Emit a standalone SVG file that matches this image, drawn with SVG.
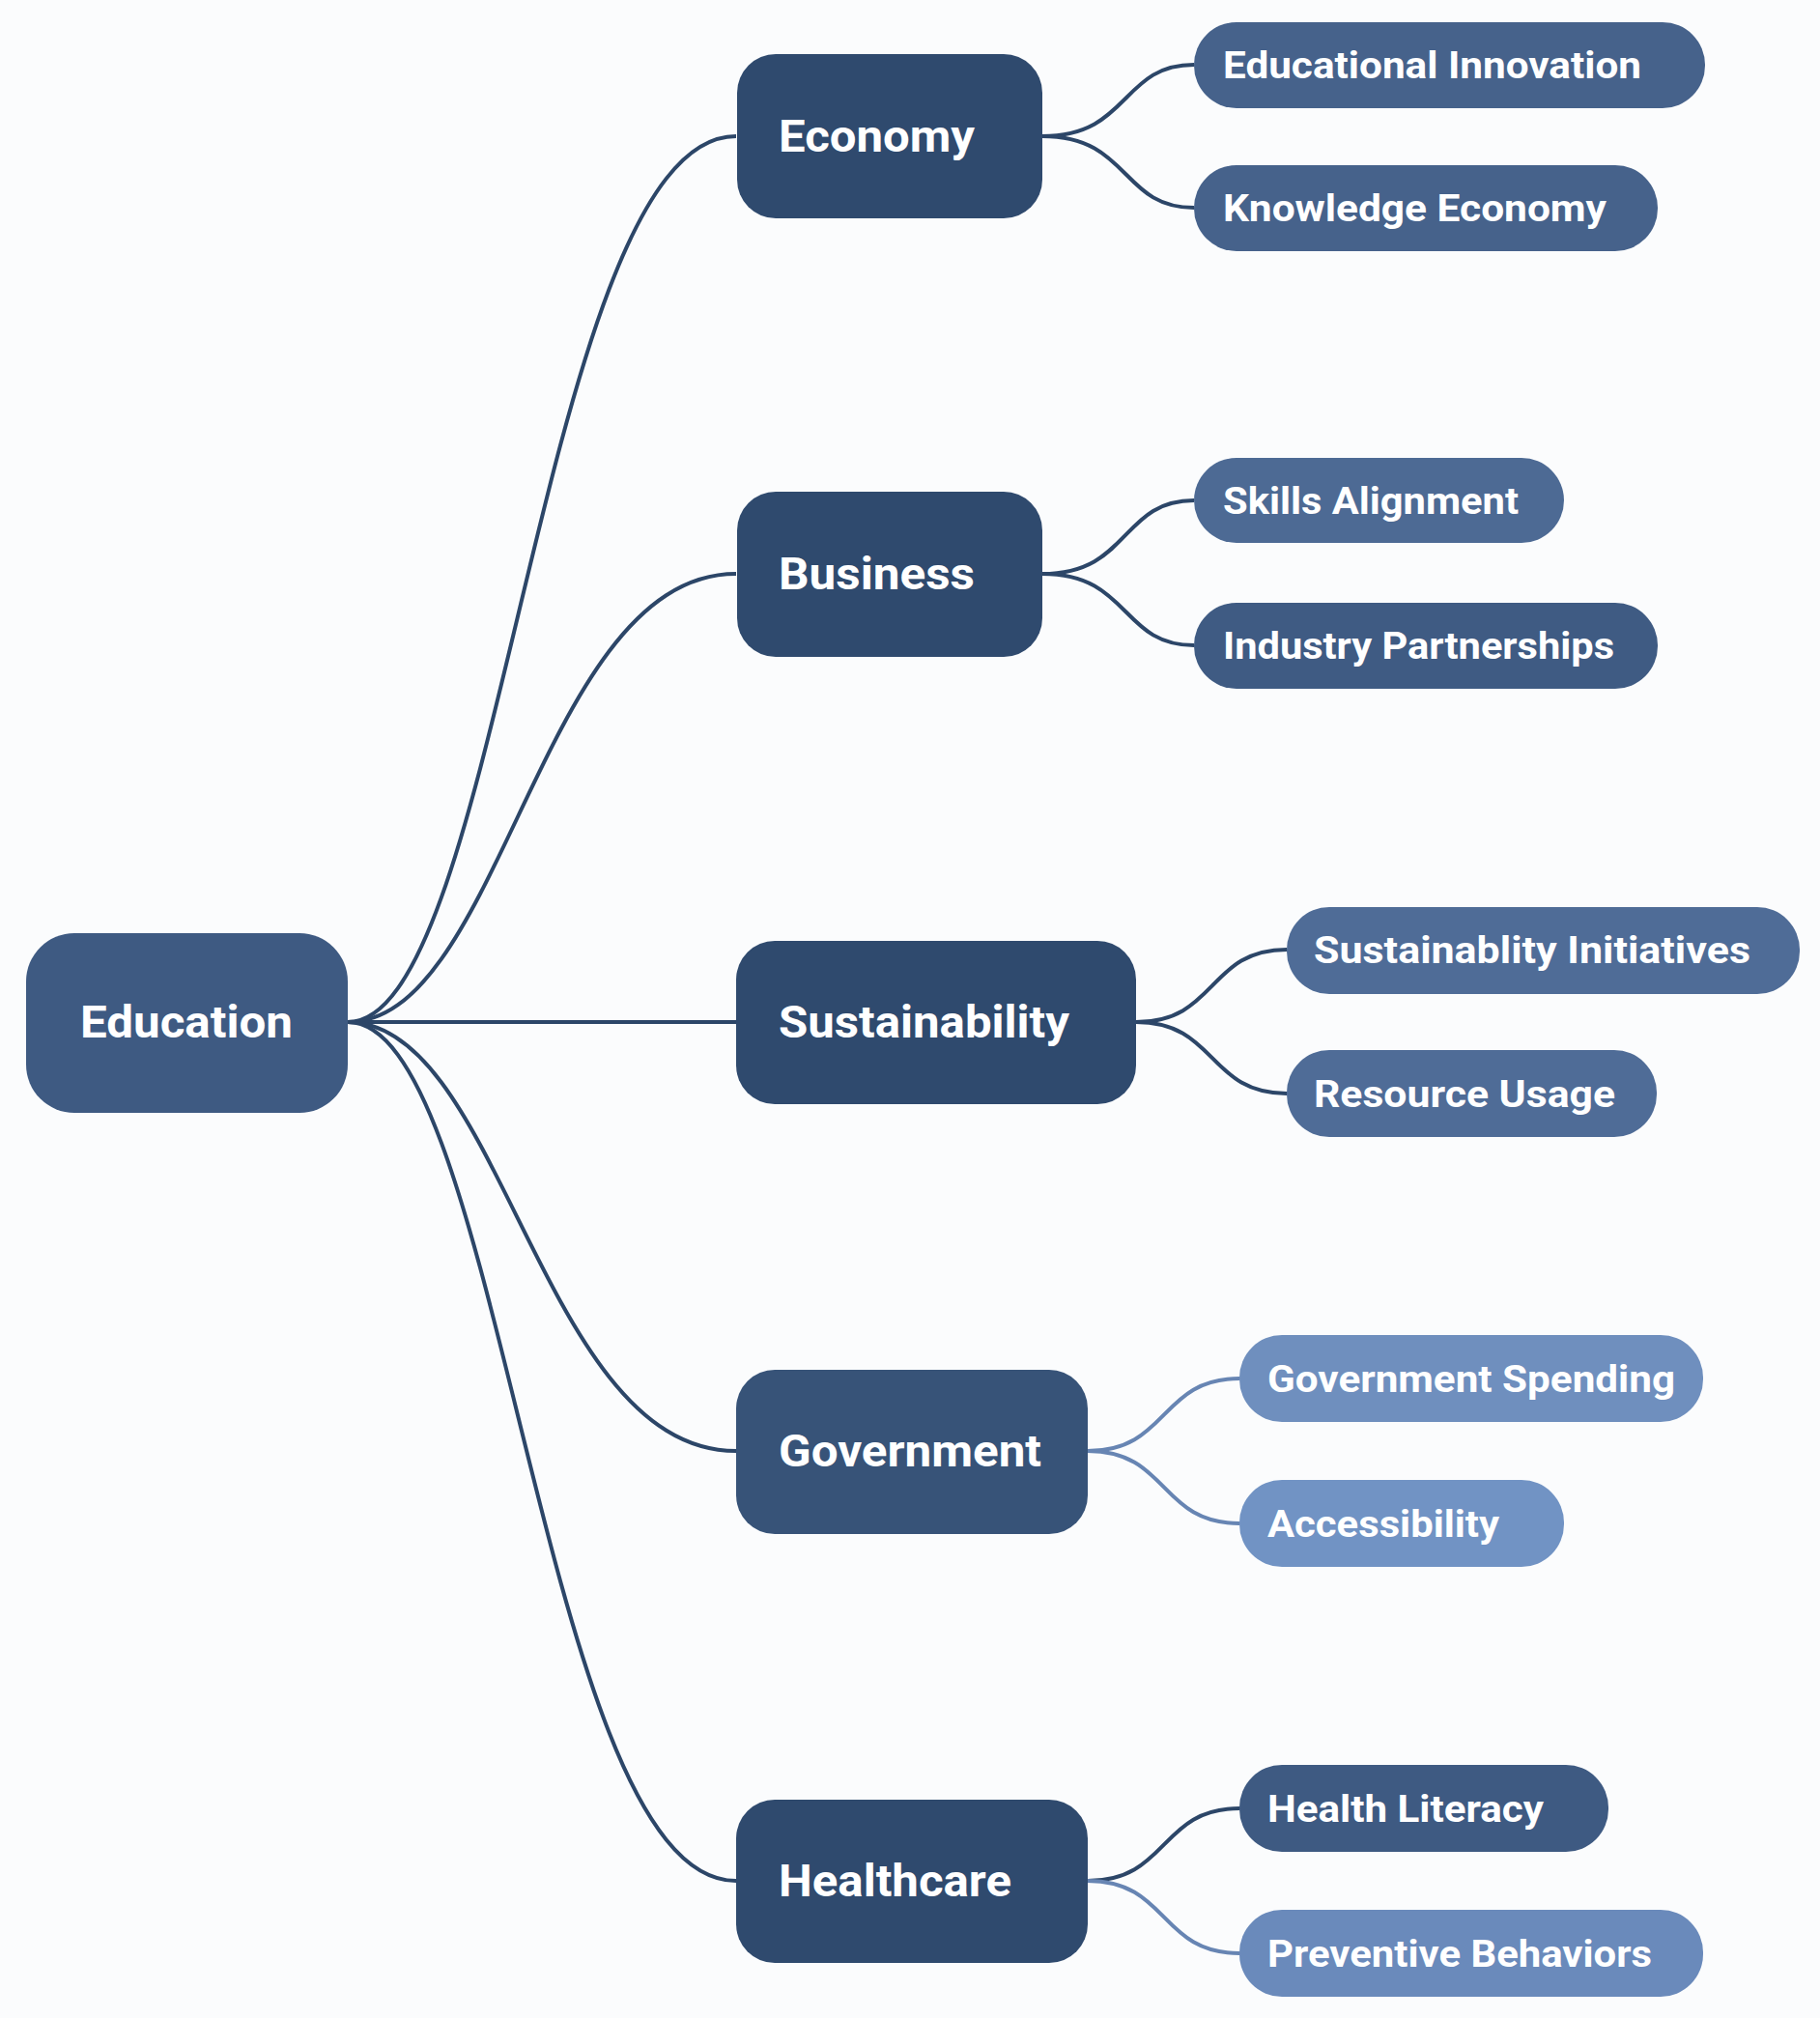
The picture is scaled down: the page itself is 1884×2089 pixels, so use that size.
<svg xmlns="http://www.w3.org/2000/svg" width="1884" height="2089" viewBox="0 0 1884 2089">
<style>
.m{fill:#2f4a6e}
.t{font-family:Roboto,"Liberation Sans",sans-serif;font-weight:bold;fill:#fff}
.mt{font-size:46px}
.lt{font-size:39px}
.c{fill:none;stroke:#2c4668;stroke-width:4}
.cl{fill:none;stroke:#6785b3;stroke-width:4}
</style>
<rect width="1884" height="2089" fill="#fbfcfd"/>
<g id="connectors">
<path class="c" d="M360 1058 C 520 1058 560 141 762 141"/>
<path class="c" d="M360 1058 C 520 1058 560 594 762 594"/>
<path class="c" d="M360 1058 L 762 1058"/>
<path class="c" d="M360 1058 C 520 1058 560 1502 762 1502"/>
<path class="c" d="M360 1058 C 520 1058 560 1947 762 1947"/>
<path class="c" d="M1079 141 C 1170 141 1160 67 1236 67"/>
<path class="c" d="M1079 141 C 1170 141 1160 215 1236 215"/>
<path class="c" d="M1079 594 C 1170 594 1160 518 1236 518"/>
<path class="c" d="M1079 594 C 1170 594 1160 668 1236 668"/>
<path class="c" d="M1176 1058 C 1260 1058 1250 983 1332 983"/>
<path class="c" d="M1176 1058 C 1260 1058 1250 1132 1332 1132"/>
<path class="cl" d="M1126 1502 C 1210 1502 1200 1427 1283 1427"/>
<path class="cl" d="M1126 1502 C 1210 1502 1200 1577 1283 1577"/>
<path class="c" d="M1126 1947 C 1210 1947 1200 1872 1283 1872"/>
<path class="cl" d="M1126 1947 C 1210 1947 1200 2022 1283 2022"/>
</g>
<g id="education"><rect x="27" y="966" width="333" height="186" rx="50" fill="#3e5a82"/><text class="t mt" x="83" y="1074" textLength="220" lengthAdjust="spacingAndGlyphs">Education</text></g>
<g id="economy"><rect class="m" x="763" y="56" width="316" height="170" rx="40"/><text class="t mt" x="806" y="157" textLength="203" lengthAdjust="spacingAndGlyphs">Economy</text></g>
<g id="business"><rect class="m" x="763" y="509" width="316" height="171" rx="40"/><text class="t mt" x="806" y="610" textLength="203" lengthAdjust="spacingAndGlyphs">Business</text></g>
<g id="sustainability"><rect class="m" x="762" y="974" width="414" height="169" rx="40"/><text class="t mt" x="806" y="1074" textLength="301" lengthAdjust="spacingAndGlyphs">Sustainability</text></g>
<g id="government"><rect x="762" y="1418" width="364" height="170" rx="40" fill="#375378"/><text class="t mt" x="806" y="1518" textLength="272" lengthAdjust="spacingAndGlyphs">Government</text></g>
<g id="healthcare"><rect class="m" x="762" y="1863" width="364" height="169" rx="40"/><text class="t mt" x="806" y="1963" textLength="241" lengthAdjust="spacingAndGlyphs">Healthcare</text></g>
<g id="educational-innovation"><rect x="1236" y="23" width="529" height="89" rx="44" fill="#46628b"/><text class="t lt" x="1266" y="81" textLength="433" lengthAdjust="spacingAndGlyphs">Educational Innovation</text></g>
<g id="knowledge-economy"><rect x="1236" y="171" width="480" height="89" rx="44" fill="#46628b"/><text class="t lt" x="1266" y="229" textLength="397" lengthAdjust="spacingAndGlyphs">Knowledge Economy</text></g>
<g id="skills-alignment"><rect x="1236" y="474" width="383" height="88" rx="44" fill="#4d6a94"/><text class="t lt" x="1266" y="532" textLength="306" lengthAdjust="spacingAndGlyphs">Skills Alignment</text></g>
<g id="industry-partnerships"><rect x="1236" y="624" width="480" height="89" rx="44" fill="#3f5b83"/><text class="t lt" x="1266" y="682" textLength="405" lengthAdjust="spacingAndGlyphs">Industry Partnerships</text></g>
<g id="sustainability-initiatives"><rect x="1332" y="939" width="531" height="90" rx="44" fill="#4f6c97"/><text class="t lt" x="1360" y="997" textLength="452" lengthAdjust="spacingAndGlyphs">Sustainablity Initiatives</text></g>
<g id="resource-usage"><rect x="1332" y="1087" width="383" height="90" rx="44" fill="#4f6c97"/><text class="t lt" x="1360" y="1146" textLength="312" lengthAdjust="spacingAndGlyphs">Resource Usage</text></g>
<g id="government-spending"><rect x="1283" y="1382" width="480" height="90" rx="44" fill="#6f8fbe"/><text class="t lt" x="1312" y="1441" textLength="422" lengthAdjust="spacingAndGlyphs">Government Spending</text></g>
<g id="accessibility"><rect x="1283" y="1532" width="336" height="90" rx="44" fill="#7193c4"/><text class="t lt" x="1312" y="1591" textLength="240" lengthAdjust="spacingAndGlyphs">Accessibility</text></g>
<g id="health-literacy"><rect x="1283" y="1827" width="382" height="90" rx="44" fill="#3e5a82"/><text class="t lt" x="1312" y="1886" textLength="286" lengthAdjust="spacingAndGlyphs">Health Literacy</text></g>
<g id="preventive-behaviors"><rect x="1283" y="1977" width="480" height="90" rx="44" fill="#6a8abb"/><text class="t lt" x="1312" y="2036" textLength="398" lengthAdjust="spacingAndGlyphs">Preventive Behaviors</text></g>
</svg>
